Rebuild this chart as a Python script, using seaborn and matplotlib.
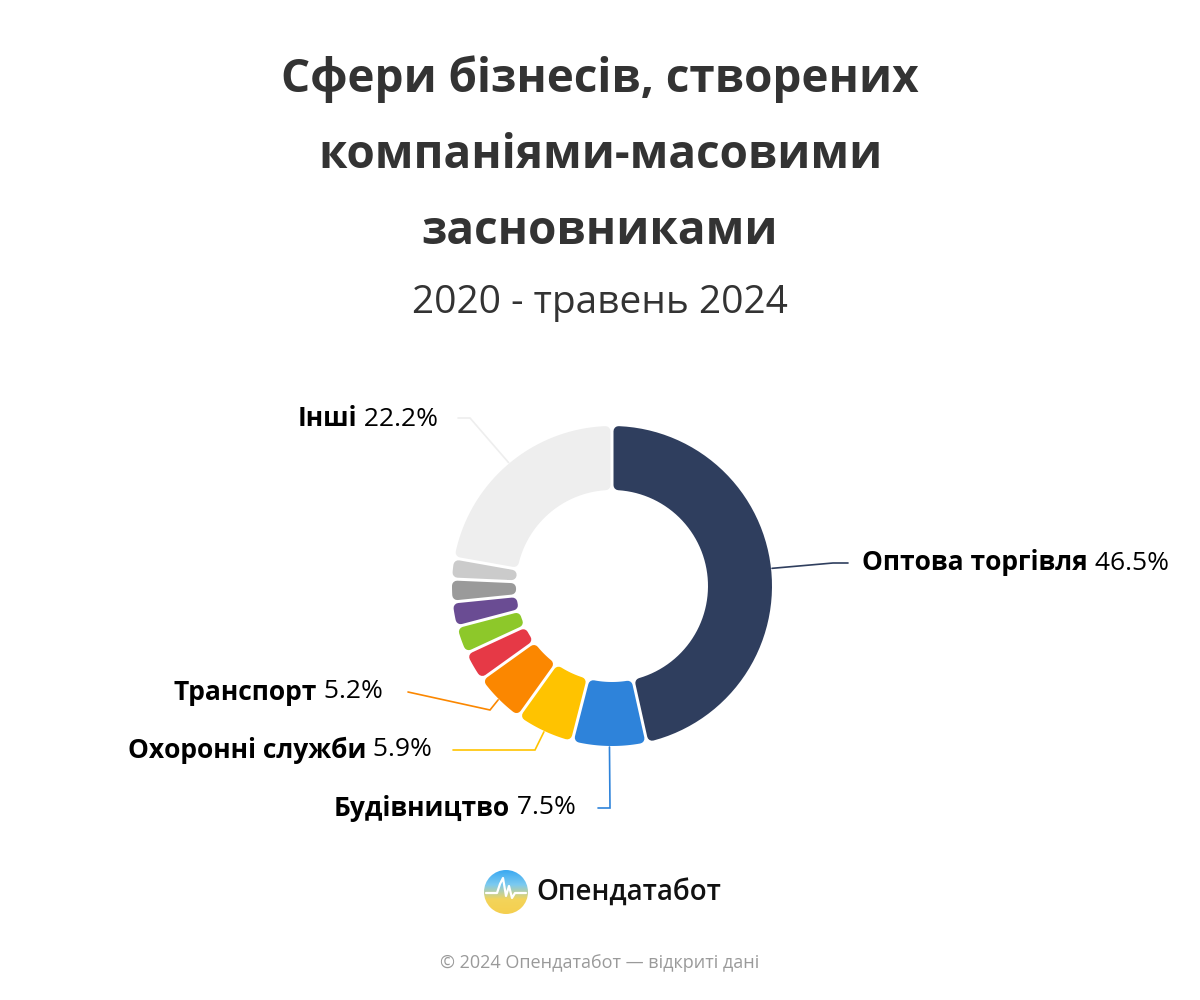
import matplotlib.pyplot as plt
from matplotlib.patches import Circle, PathPatch
from matplotlib.path import Path
import seaborn as sns
import numpy as np

# data: shares of business spheres, clockwise from 12 o'clock
categories = ['Оптова торгівля', 'Будівництво', 'Охоронні служби', 'Транспорт',
              'Інша сфера 1', 'Інша сфера 2', 'Інша сфера 3', 'Інша сфера 4',
              'Інша сфера 5', 'Інші']
shares = [46.5, 7.5, 5.9, 5.2, 3.0, 2.8, 2.5, 2.3, 2.1, 22.2]
colors = ['#2f3e5e', '#2e83da', '#ffc300', '#fb8700', '#e63946', '#8dc82a',
          '#6a4c93', '#9a9a9a', '#cbcbcb', '#eeeeee']
shown = ['Оптова торгівля', 'Будівництво', 'Охоронні служби', 'Транспорт', 'Інші']

title_lines = ['Сфери бізнесів, створених', 'компаніями-масовими', 'засновниками']
subtitle = '2020 - травень 2024'
footer = '© 2024 Опендатабот — відкриті дані'

sns.set_theme(style='white')
plt.rcParams['font.family'] = ['Open Sans', 'DejaVu Sans']

H = 1000
fig = plt.figure(figsize=(12, 10), dpi=100)
ax = fig.add_axes([0, 0, 1, 1])

cx, cy = 612, H - 586
r_out, r_in = 160, 96
rc, gap = 5, 3  # corner radius and gap between slices (px)

wedges, _ = ax.pie(shares, colors=sns.color_palette(colors), startangle=90,
                   counterclock=False, radius=r_out, center=(cx, cy),
                   wedgeprops=dict(width=r_out - r_in))


def rounded_sector(t1, t2):
    # shrunk annular sector, later stroked with round joins -> rounded corners
    d = gap / 2 + rc
    ro, ri = r_out - rc, r_in + rc
    a1 = np.radians(t1)
    a2 = np.radians(t2)
    do, di = np.arcsin(d / ro), np.arcsin(d / ri)
    if a2 - a1 < 2 * di:
        m = (a1 + a2) / 2
        i1 = i2 = m
    else:
        i1, i2 = a1 + di, a2 - di
    ao = np.linspace(a1 + do, a2 - do, 60)
    ai = np.linspace(i2, i1, 60)
    xs = np.concatenate([cx + ro * np.cos(ao), cx + ri * np.cos(ai)])
    ys = np.concatenate([cy + ro * np.sin(ao), cy + ri * np.sin(ai)])
    verts = np.column_stack([xs, ys])
    verts = np.vstack([verts, verts[:1]])
    codes = [Path.MOVETO] + [Path.LINETO] * (len(verts) - 2) + [Path.CLOSEPOLY]
    return Path(verts, codes)


mids = {}
for w, name, col in zip(wedges, categories, colors):
    w.set_visible(False)
    p = PathPatch(rounded_sector(w.theta1, w.theta2), facecolor=col,
                  edgecolor=col, lw=2 * rc * 72 / 100, joinstyle='round')
    ax.add_patch(p)
    mids[name] = (w.theta1 + w.theta2) / 2

ax.set_xlim(0, 1200)
ax.set_ylim(0, H)
ax.set_aspect('equal')
ax.axis('off')

# connector elbows, line ends, label anchors (pixel coords, y from top)
layout = {
    'Оптова торгівля': [(833, 563), (848, 563), (862, 563), 'left'],
    'Інші': [(470, 418), (458, 418), (438, 419), 'right'],
    'Транспорт': [(490, 710), (408, 692), (383, 692), 'right'],
    'Охоронні служби': [(535, 750), (453, 750), (432, 750), 'right'],
    'Будівництво': [(610, 808), (598, 808), (576, 808), 'right'],
}

fig.canvas.draw()
renderer = fig.canvas.get_renderer()
lab_size = 19
for name in shown:
    i = categories.index(name)
    a = np.radians(mids[name])
    sx, sy = cx + (r_out + 1) * np.cos(a), cy + (r_out + 1) * np.sin(a)
    (ex, ey), (lx, ly), (tx, ty), side = layout[name]
    ax.plot([sx, ex, lx], [sy, H - ey, H - ly], color=colors[i], lw=1.2,
            solid_joinstyle='miter')
    pct = f' {shares[i]}%'
    if side == 'left':
        t = ax.text(tx, H - ty, name, ha='left', va='center', fontsize=lab_size,
                    fontweight='bold', color='black')
        wdt = t.get_window_extent(renderer).width
        ax.text(tx + wdt, H - ty, pct, ha='left', va='center', fontsize=lab_size,
                color='black')
    else:
        t = ax.text(tx, H - ty, pct, ha='right', va='center', fontsize=lab_size,
                    color='black')
        wdt = t.get_window_extent(renderer).width
        ax.text(tx - wdt, H - ty, name, ha='right', va='center', fontsize=lab_size,
                fontweight='bold', color='black')

# titles
for k, line in enumerate(title_lines):
    ax.text(600, H - (79 + 76 * k), line, ha='center', va='center', fontsize=33,
            fontweight='bold', color='#333333')
ax.text(600, H - 303, subtitle, ha='center', va='center', fontsize=28,
        fontweight='medium', color='#333333')

# logo
lx0, ly0, lr = 506, H - 892, 22
grad = np.linspace(0, 1, 100).reshape(-1, 1)
cmap = sns.blend_palette(['#f5cf4f', '#f3d45a', '#7ccaf0', '#3aa9f2'], as_cmap=True)
img = ax.imshow(grad, extent=[lx0 - lr, lx0 + lr, ly0 - lr, ly0 + lr],
                origin='lower', cmap=cmap, zorder=3)
clip = Circle((lx0, ly0), lr, transform=ax.transData)
img.set_clip_path(clip)
px = np.array([-20, -9, -6, -3, 0, 3, 6, 9, 20])
py = np.array([-1, -1, 8, 14, -4, 6, -6, -1, -1])
ax.plot(lx0 + px, ly0 + py, color='white', lw=1.6, zorder=4)
ax.set_xlim(0, 1200)
ax.set_ylim(0, H)
ax.text(536, H - 892, 'Опендатабот', ha='left', va='center', fontsize=20,
        fontweight='semibold', color='#111111')

ax.text(600, H - 963, footer, ha='center', va='center', fontsize=13,
        color='#9a9a9a')

fig.savefig('out.png', dpi=100)
